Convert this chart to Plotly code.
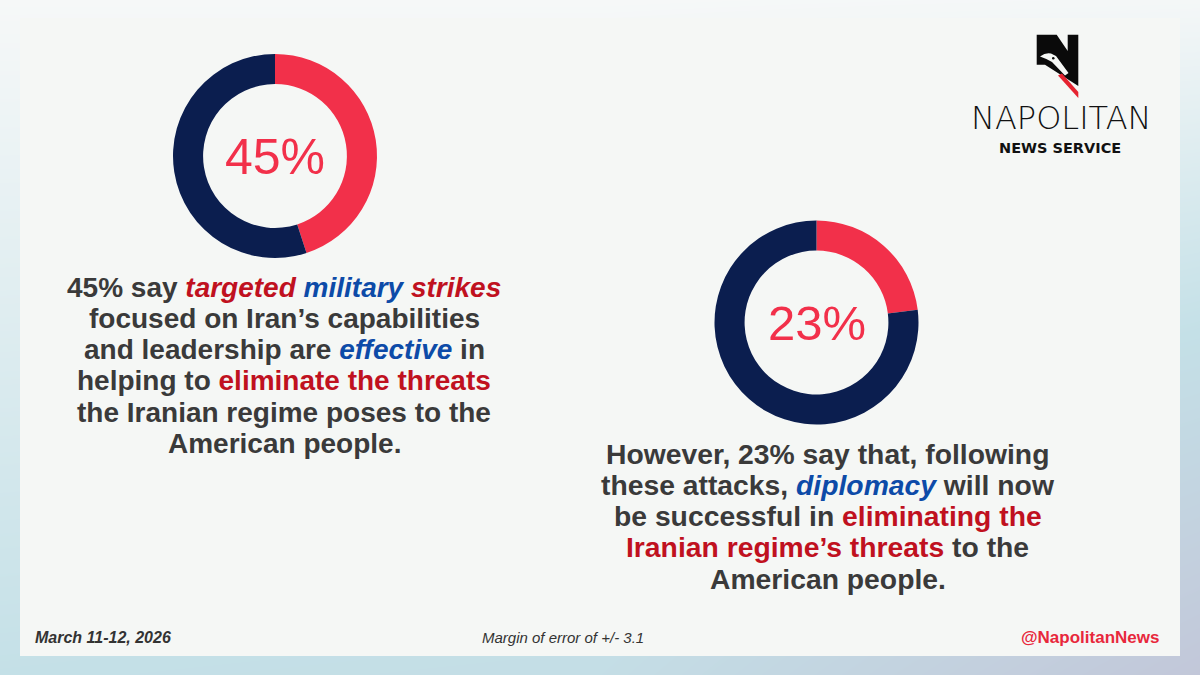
import plotly.graph_objects as go

# ---------------- data ----------------
labels = ["Yes", "Other"]
values_strikes = [45, 55]
values_diplomacy = [23, 77]
center_label_1 = "45%"
center_label_2 = "23%"

RED_T = "#c0111f"
BLUE_T = "#0d4ba8"


def red(t, it=False):
    s = f"<span style='color:{RED_T}'>{t}</span>"
    return f"<i>{s}</i>" if it else s


def blue(t, it=True):
    s = f"<span style='color:{BLUE_T}'>{t}</span>"
    return f"<i>{s}</i>" if it else s


text_1_lines = [
    "45% say " + red("targeted", True) + " " + blue("military") + " " + red("strikes", True),
    "focused on Iran’s capabilities",
    "and leadership are " + blue("effective") + " in",
    "helping to " + red("eliminate the threats"),
    "the Iranian regime poses to the",
    "American people.",
]
text_2_lines = [
    "However, 23% say that, following",
    "these attacks, " + blue("diplomacy") + " will now",
    "be successful in " + red("eliminating the"),
    red("Iranian regime’s threats") + " to the",
    "American people.",
]
footer_date = "March 11-12, 2026"
footer_moe = "Margin of error of +/- 3.1"
footer_handle = "@NapolitanNews"
brand_name = "NAPOLITAN"
brand_sub = "NEWS SERVICE"

# ---------------- style ----------------
W, H = 1200, 675
DONUT_RED = "#f2304a"
NAVY = "#0b1e4f"
GRAY = "#3a3a3a"
PANEL = "#f5f7f5"
BG_COLORS = [[0, "#f6f8f8"], [0.5, "#c4e0e7"], [1, "#c2c7d9"]]
BG_Z = [[0.0, 0.0, 0.02], [0.5, 0.55, 1.0]]


def dom(cx, cy, r):
    return dict(x=[(cx - r) / W, (cx + r) / W], y=[(H - cy - r) / H, (H - cy + r) / H])


fig = go.Figure()

# background gradient + panel
fig.add_trace(go.Heatmap(z=BG_Z, x=[0, 600, 1200], y=[0, 675], colorscale=BG_COLORS,
                         zmin=0, zmax=1, zsmooth="best", showscale=False, hoverinfo="skip"))
fig.add_trace(go.Scatter(x=[20, 1180, 1180, 20, 20], y=[18, 18, 656, 656, 18], mode="lines",
                         fill="toself", fillcolor=PANEL, line=dict(width=0, color=PANEL),
                         hoverinfo="skip", showlegend=False))

for vals, d in [(values_strikes, dom(275, 156, 102)), (values_diplomacy, dom(816.5, 322.5, 102))]:
    fig.add_trace(go.Pie(labels=labels, values=vals, hole=0.705, sort=False, direction="clockwise",
                         rotation=0, textinfo="none", hoverinfo="skip", showlegend=False,
                         marker=dict(colors=[DONUT_RED, NAVY], line=dict(width=0)), domain=d))

ann = []
ann.append(dict(x=275, y=157, text=center_label_1, font=dict(family="Liberation Sans", size=50, color=DONUT_RED)))
ann.append(dict(x=817, y=323, text=center_label_2, font=dict(family="Liberation Sans", size=49, color=DONUT_RED)))

for i, t in enumerate(text_1_lines):
    ann.append(dict(x=284, y=287 + 31.3 * i, text=t,
                    font=dict(family="Liberation Sans", size=28, color=GRAY, weight="bold")))
for i, t in enumerate(text_2_lines):
    ann.append(dict(x=827.5, y=453.5 + 31.3 * i, text=t,
                    font=dict(family="Liberation Sans", size=28.3, color=GRAY, weight="bold")))

ann.append(dict(x=33, y=637, text=f"<i>{footer_date}</i>", xanchor="left",
                font=dict(family="Liberation Sans", size=16, color="#333333", weight="bold")))
ann.append(dict(x=563, y=637, text=f"<i>{footer_moe}</i>",
                font=dict(family="Liberation Sans", size=15, color="#333333")))
ann.append(dict(x=1161, y=637, text=footer_handle, xanchor="right",
                font=dict(family="Liberation Sans", size=17, color="#e8283c", weight="bold")))

ann.append(dict(x=1061, y=118, text=brand_name,
                font=dict(family="DejaVu Sans", size=32, color="#111111", weight=200)))
ann.append(dict(x=1060, y=148, text=brand_sub,
                font=dict(family="DejaVu Sans", size=14.5, color="#111111", weight="bold")))

for a in ann:
    a.update(xref="x", yref="y", showarrow=False)
    a.setdefault("xanchor", "center")
    a.setdefault("yanchor", "middle")

shapes = [
    dict(type="path", path="M1036.7,34.7 L1056.7,34.7 L1067.7,51 L1067.7,34.7 L1078.3,34.7 L1078.3,86 L1045,64.7 L1036.7,64.7 Z",
         fillcolor="#0a0a0a", line=dict(width=0)),
    dict(type="path", path="M1040,56.5 Q1046,52 1051,53.5 L1056,56 L1068.5,73 L1065,75.5 L1052,62 Q1046,58.5 1040,56.5 Z",
         fillcolor=PANEL, line=dict(width=0)),
    dict(type="circle", x0=1052, x1=1054.5, y0=57, y1=59.5, fillcolor="#0a0a0a", line=dict(width=0)),
    dict(type="path", path="M1058,75.5 L1062,73.5 L1078.3,92 L1078.3,98 Z",
         fillcolor="#e52330", line=dict(width=0)),
]
for s in shapes:
    s.update(xref="x", yref="y", layer="above")

fig.update_layout(
    width=W, height=H, margin=dict(l=0, r=0, t=0, b=0),
    paper_bgcolor=PANEL, plot_bgcolor=PANEL,
    xaxis=dict(range=[0, W], visible=False, fixedrange=True),
    yaxis=dict(range=[H, 0], visible=False, fixedrange=True),
    annotations=ann, shapes=shapes, showlegend=False,
)
fig.write_html("out.html", config={"displayModeBar": False},
               post_script="document.body.style.margin='0';document.body.style.overflow='hidden';")
